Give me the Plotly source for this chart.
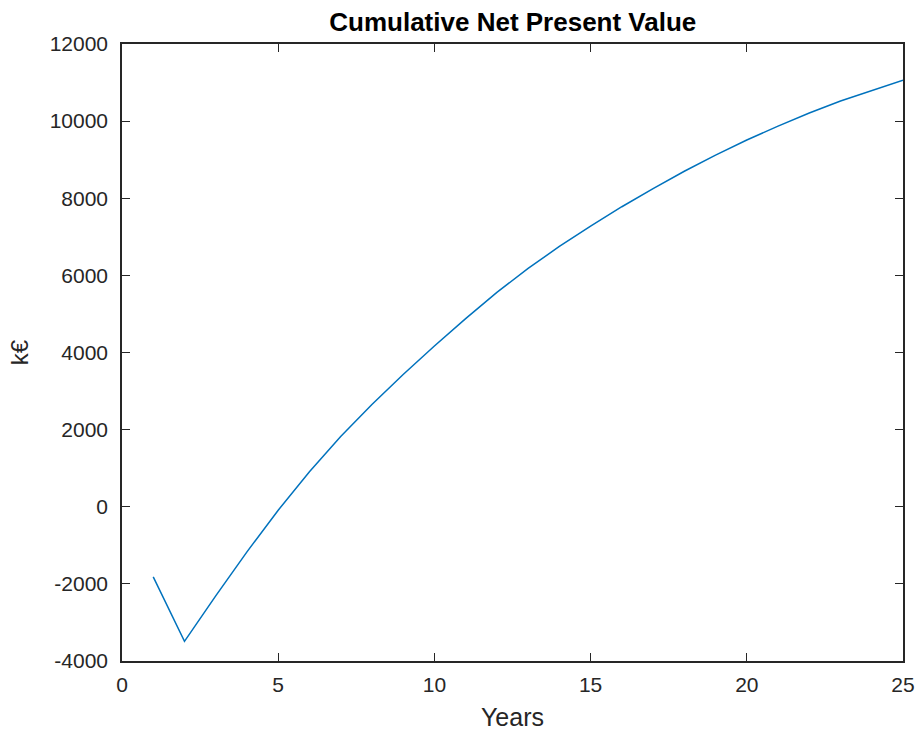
import plotly.graph_objects as go

# Cumulative discounted cash position per project year (k€)
years = list(range(1, 26))
cumulative_npv = [
    -1820, -3490, -2310, -1170, -90,
    910, 1820, 2650, 3430, 4170,
    4880, 5560, 6180, 6750, 7280,
    7780, 8250, 8700, 9120, 9510,
    9870, 10210, 10520, 10800, 11060,
]

x_ticks = [0, 5, 10, 15, 20, 25]
y_ticks = [-4000, -2000, 0, 2000, 4000, 6000, 8000, 10000, 12000]

LINE_BLUE = "#0072BD"
INK = "#262626"
FONT = "Liberation Sans, Arial, sans-serif"

fig = go.Figure(
    go.Scatter(
        x=years,
        y=cumulative_npv,
        mode="lines",
        line=dict(color=LINE_BLUE, width=1.5),
        showlegend=False,
    )
)

axis_common = dict(
    showgrid=False,
    zeroline=False,
    showline=True,
    linecolor=INK,
    linewidth=1.5,
    mirror="ticks",
    ticks="inside",
    ticklen=8,
    tickwidth=1.2,
    tickcolor=INK,
    automargin=False,
    tickfont=dict(family=FONT, size=21, color=INK),
)

fig.update_xaxes(
    range=[0, 25],
    tickvals=x_ticks,
    ticktext=[str(v) for v in x_ticks],
    ticklabelstandoff=4,
    title=dict(text="Years", font=dict(family=FONT, size=25, color=INK), standoff=14),
    **axis_common,
)
fig.update_yaxes(
    range=[-4000, 12000],
    tickvals=y_ticks,
    ticktext=[str(v) for v in y_ticks],
    ticklabelstandoff=8,
    title=dict(text="k€", font=dict(family=FONT, size=24, color=INK), standoff=14),
    **axis_common,
)

fig.update_layout(
    width=919,
    height=736,
    margin=dict(l=122, r=16, t=44, b=75),
    paper_bgcolor="white",
    plot_bgcolor="white",
    title=dict(
        text="<b>Cumulative Net Present Value</b>",
        font=dict(family=FONT, size=26, color="black"),
        x=0.558,
        xanchor="center",
        y=1 - 22 / 736,
        yanchor="middle",
    ),
)

fig.write_html("out.html")
